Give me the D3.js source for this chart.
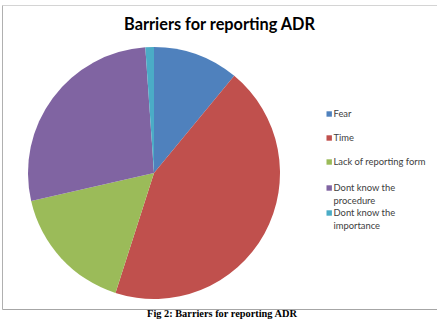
<!DOCTYPE html>
<html>
<head>
<meta charset="utf-8">
<script src="https://cdn.jsdelivr.net/npm/d3@7"></script>
<style>
  html, body { margin: 0; padding: 0; background: #fff; }
  svg { display: block; }
</style>
</head>
<body>
<svg id="chart" width="437" height="319"></svg>
<script>
const categories = ["Fear", "Time", "Lack of reporting form", "Dont know the procedure", "Dont know the importance"];
const legendLines = [["Fear"], ["Time"], ["Lack of reporting form"], ["Dont know the", "procedure"], ["Dont know the", "importance"]];
const values = [10, 40, 15, 25, 1];
const colors = ["#4F81BD", "#C0504D", "#9BBB59", "#8064A2", "#4BACC6"];
const title = "Barriers for reporting ADR";
const caption = "Fig 2: Barriers for reporting ADR";

const svg = d3.select("#chart");

// frame
svg.append("line").attr("x1", 2.5).attr("x2", 437).attr("y1", 5.5).attr("y2", 5.5)
  .attr("stroke", "#d4d4d4").attr("stroke-width", 1);
svg.append("line").attr("x1", 2.5).attr("x2", 2.5).attr("y1", 5.5).attr("y2", 309.5)
  .attr("stroke", "#b0b0b0").attr("stroke-width", 1);
svg.append("line").attr("x1", 2.5).attr("x2", 437).attr("y1", 309.5).attr("y2", 309.5)
  .attr("stroke", "#a6a6a6").attr("stroke-width", 1.2);

// title
const t = svg.append("text").attr("x", 219.5).attr("y", 30)
  .attr("text-anchor", "middle")
  .attr("font-family", "Lato, 'Open Sans', sans-serif")
  .attr("font-weight", "bold").attr("font-size", 17)
  .attr("fill", "#000").text(title);
const tw = t.node().getComputedTextLength();
t.attr("font-size", 17 * 191 / tw);

// pie
const cx = 154, cy = 173, r = 126;
const pie = d3.pie().sort(null).value(d => d)(values);
const arc = d3.arc().innerRadius(0).outerRadius(r);
const g = svg.append("g").attr("transform", `translate(${cx},${cy})`);
g.selectAll("path").data(pie).join("path")
  .attr("d", arc)
  .attr("fill", (d, i) => colors[i]);

// legend
const markerY = [114, 138, 162, 188, 213];
const lg = svg.append("g");
let legendFont = 10;
const probe = svg.append("text").attr("font-family", "Lato, 'Open Sans', sans-serif")
  .attr("font-size", 10).text("Lack of reporting form");
legendFont = 10 * 92 / probe.node().getComputedTextLength();
probe.remove();
legendLines.forEach((lines, i) => {
  lg.append("rect").attr("x", 326.5).attr("y", markerY[i] - 2.7)
    .attr("width", 5.4).attr("height", 5.4).attr("fill", colors[i]);
  const tx = lg.append("text").attr("x", 333.5).attr("y", markerY[i] + 3.4)
    .attr("font-family", "Lato, 'Open Sans', sans-serif")
    .attr("font-size", legendFont).attr("fill", "#404040");
  lines.forEach((ln, j) => {
    tx.append("tspan").attr("x", 333.5).attr("dy", j === 0 ? 0 : 12.5).text(ln);
  });
});

// caption
const c = svg.append("text").attr("x", 222).attr("y", 317)
  .attr("text-anchor", "middle")
  .attr("font-family", "'Liberation Serif', 'Times New Roman', serif")
  .attr("font-weight", "bold").attr("font-size", 9)
  .attr("fill", "#000").text(caption);
const cw = c.node().getComputedTextLength();
c.attr("font-size", 9 * 150 / cw);
</script>
</body>
</html>
